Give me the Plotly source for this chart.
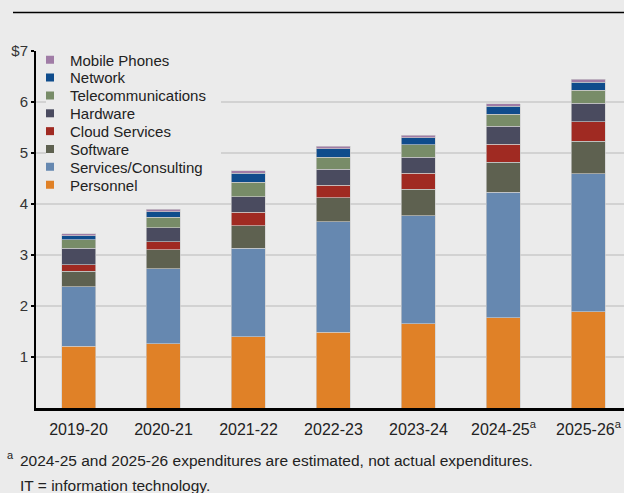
import plotly.graph_objects as go

# Fiscal years and their axis labels (estimates flagged with a superscript)
years = ["2019-20", "2020-21", "2021-22", "2022-23", "2023-24", "2024-25", "2025-26"]
year_labels = ["2019-20", "2020-21", "2021-22", "2022-23", "2023-24",
               "2024-25<sup>a</sup>", "2025-26<sup>a</sup>"]

# IT expenditures by category, billions of dollars (stacked bottom to top)
personnel = [1.21, 1.26, 1.40, 1.49, 1.65, 1.77, 1.89]
services_consulting = [1.17, 1.47, 1.73, 2.16, 2.12, 2.46, 2.70]
software = [0.30, 0.37, 0.44, 0.47, 0.52, 0.59, 0.64]
cloud_services = [0.13, 0.16, 0.27, 0.25, 0.31, 0.35, 0.38]
hardware = [0.32, 0.27, 0.30, 0.31, 0.32, 0.35, 0.37]
telecommunications = [0.17, 0.21, 0.29, 0.24, 0.24, 0.24, 0.25]
network = [0.08, 0.11, 0.17, 0.16, 0.14, 0.16, 0.16]
mobile_phones = [0.04, 0.05, 0.05, 0.05, 0.05, 0.05, 0.06]

y_ticks = [1, 2, 3, 4, 5, 6, 7]
y_tick_labels = ["1", "2", "3", "4", "5", "6", "$7"]

series = [
    ("Personnel", personnel, "#E08127"),
    ("Services/Consulting", services_consulting, "#6688B0"),
    ("Software", software, "#5E6150"),
    ("Cloud Services", cloud_services, "#A02A22"),
    ("Hardware", hardware, "#4A4B5F"),
    ("Telecommunications", telecommunications, "#788C68"),
    ("Network", network, "#0F4C8C"),
    ("Mobile Phones", mobile_phones, "#A07CA6"),
]

BG = "#EBEBEB"
FONT = "Liberation Sans, Arial, sans-serif"
W, H = 624, 493
L, R, T, B = 36, 0, 51, 85
PW, PH = W - L - R, H - T - B


def px_x(px):
    return (px - L) / PW


def px_y(py):
    return (H - B - py) / PH


fig = go.Figure()

for name, vals, color in series:
    fig.add_trace(go.Bar(
        x=years, y=vals, name=name, width=0.4,
        marker=dict(color=color, line=dict(color="rgba(205,205,205,0.8)", width=0.8)),
        showlegend=False,
    ))

# Legend keys: one compact single-entry legend per row, top row first
legend_layouts = {}
row_top, row_step = 60, 17.85
for i, (name, vals, color) in enumerate(reversed(series)):
    key = "legend" if i == 0 else f"legend{i + 1}"
    fig.add_trace(go.Scatter(
        x=[None], y=[None], mode="markers", name=name, legend=key,
        marker=dict(symbol="square", size=8, color=color, line=dict(width=0)),
        hoverinfo="skip",
    ))
    legend_layouts[key] = dict(
        x=px_x(30), y=px_y(row_top + i * row_step),
        xanchor="left", yanchor="middle",
        bgcolor="rgba(0,0,0,0)", borderwidth=0,
        font=dict(size=15, color="#222222"),
    )

fig.update_layout(
    width=W, height=H,
    margin=dict(l=L, r=R, t=T, b=B),
    paper_bgcolor=BG, plot_bgcolor=BG,
    barmode="stack",
    font=dict(family=FONT, size=15, color="#222222"),
    showlegend=True,
    xaxis=dict(
        type="category", range=[-0.5, 6.418],
        tickvals=years, ticktext=year_labels,
        showgrid=False, showline=True, linecolor="black", linewidth=2.5,
        ticks="", tickfont=dict(size=16, color="#222222"),
        ticklabelstandoff=5, zeroline=False,
    ),
    yaxis=dict(
        range=[0, 7], tickvals=y_ticks, ticktext=y_tick_labels,
        showgrid=True, gridcolor="#D2D2D2", gridwidth=1.5,
        showline=True, linecolor="black", linewidth=2,
        ticks="outside", ticklen=3, tickcolor="black", tickwidth=1.5,
        tickfont=dict(size=15, color="#333333"), zeroline=False,
    ),
    shapes=[
        # rule across the top of the figure
        dict(type="line", xref="paper", yref="paper",
             x0=px_x(13), x1=1, y0=px_y(12.5), y1=px_y(12.5),
             line=dict(color="black", width=1.5)),
        # plain backing behind the legend block
        dict(type="rect", xref="paper", yref="paper", layer="above",
             x0=px_x(46), x1=px_x(221), y0=px_y(196), y1=px_y(48),
             fillcolor=BG, line=dict(width=0)),
    ],
    annotations=[
        dict(text="a", x=px_x(5), y=px_y(455), xref="paper", yref="paper",
             xanchor="left", yanchor="middle", showarrow=False,
             font=dict(size=11, color="#222222")),
        dict(text="2024-25 and 2025-26 expenditures are estimated, not actual expenditures.",
             x=px_x(18), y=px_y(461), xref="paper", yref="paper",
             xanchor="left", yanchor="middle", showarrow=False,
             font=dict(size=15.5, color="#222222")),
        dict(text="IT = information technology.",
             x=px_x(18), y=px_y(485), xref="paper", yref="paper",
             xanchor="left", yanchor="middle", showarrow=False,
             font=dict(size=15.5, color="#222222")),
    ],
    **legend_layouts,
)

fig.write_html("out.html")
